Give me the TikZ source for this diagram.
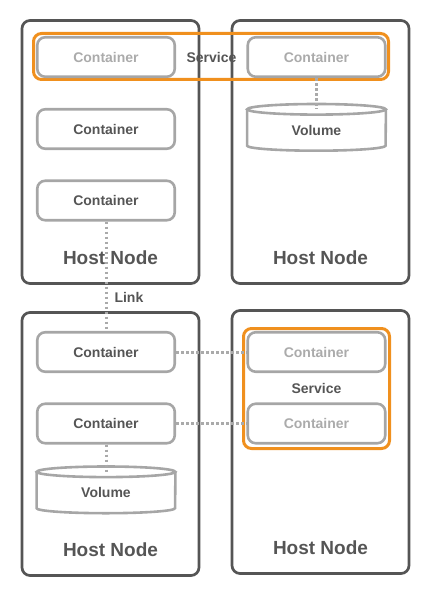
\documentclass[tikz,border=0pt]{standalone}
\usepackage{fontspec}
\setmainfont{Liberation Sans}
\definecolor{hostc}{HTML}{555555}
\definecolor{contc}{HTML}{A6A6A6}
\definecolor{lightt}{HTML}{ABABAB}
\definecolor{orangec}{HTML}{F0901E}
\definecolor{dotc}{HTML}{AAAAAA}
\begin{document}
\begin{tikzpicture}[x=1pt,y=-1pt,
  host/.style={draw=hostc,line width=2.7pt,rounded corners=8pt,minimum width=177pt,minimum height=263pt,inner sep=0pt},
  cont/.style={draw=contc,line width=2.6pt,rounded corners=8pt,minimum width=137.5pt,minimum height=39.5pt,inner sep=0pt,text=hostc,font=\bfseries\fontsize{14}{16}\selectfont},
  scont/.style={cont,text=lightt},
  svc/.style={draw=orangec,line width=3pt,rounded corners=8pt,inner sep=0pt},
  hostlabel/.style={text=hostc,font=\bfseries\fontsize{19}{22}\selectfont},
  smalllabel/.style={text=hostc,font=\bfseries\fontsize{14}{16}\selectfont},
  volbox/.style={minimum width=138.5pt,minimum height=36pt,inner sep=0pt,text=hostc,font=\bfseries\fontsize{14}{16}\selectfont},
  dotline/.style={draw=dotc,line width=3pt,dash pattern=on 2.6pt off 2.4pt}
]
\useasboundingbox (0,0) rectangle (430,596);
% hosts
\node[host] (h1) at (110.5,152) {};
\node[host] (h2) at (320.5,152) {};
\node[host] (h3) at (110.5,444) {};
\node[host] (h4) at (320.5,442) {};
\node[hostlabel] (hl1) at (110.5,258) {Host Node};
\node[hostlabel] (hl2) at (320.5,258) {Host Node};
\node[hostlabel] (hl3) at (110.5,550) {Host Node};
\node[hostlabel] (hl4) at (320.5,548) {Host Node};
% services
\node[svc,minimum width=355pt,minimum height=46pt] (s1) at (211,56.5) {};
\node[svc,minimum width=146pt,minimum height=120pt] (s2) at (316.5,388.5) {};
\node[smalllabel] (sl1) at (211.5,57) {Service};
\node[smalllabel] (sl2) at (316.5,388) {Service};
% containers
\node[scont] (c1) at (106,57) {Container};
\node[cont] (c2) at (106,129) {Container};
\node[cont] (c3) at (106,200.5) {Container};
\node[scont] (c4) at (316.5,57) {Container};
\node[cont] (c5) at (106,352) {Container};
\node[cont] (c6) at (106,423.5) {Container};
\node[scont] (c7) at (316.5,352) {Container};
\node[scont] (c8) at (316.5,423.5) {Container};
% volumes
\node[volbox] (v1) at (316.5,127.5) {};
\node[volbox] (v2) at (106,490) {};
\node[text=hostc,font=\bfseries\fontsize{14}{16}\selectfont] (vl1) at (316.5,130) {Volume};
\node[text=hostc,font=\bfseries\fontsize{14}{16}\selectfont] (vl2) at (106,492) {Volume};
% connectors
\draw[dotline] (c4.south) -- (v1.north);
\draw[dotline] (c6.south) -- (v2.north);
\draw[dotline] (c3.south) -- (c5.north);
\draw[dotline] (c5.east) -- (c7.west);
\draw[dotline] (c6.east) -- (c8.west);
\node[smalllabel,anchor=west] (lk) at (111,297) {Link};
% cylinders
\foreach \v in {v1,v2}{
  \draw[draw=contc,line width=2.6pt,fill=white] (\v.north) ellipse [x radius=69.25pt,y radius=5.3pt];
  \draw[draw=contc,line width=2.6pt] (\v.north west) -- (\v.south west) arc[start angle=180,end angle=360,x radius=69.25pt,y radius=5pt] -- (\v.north east);
}
\draw[dotline] (c4.south) -- (v1.north);
\draw[dotline] (c6.south) -- (v2.north);
\end{tikzpicture}
\end{document}
